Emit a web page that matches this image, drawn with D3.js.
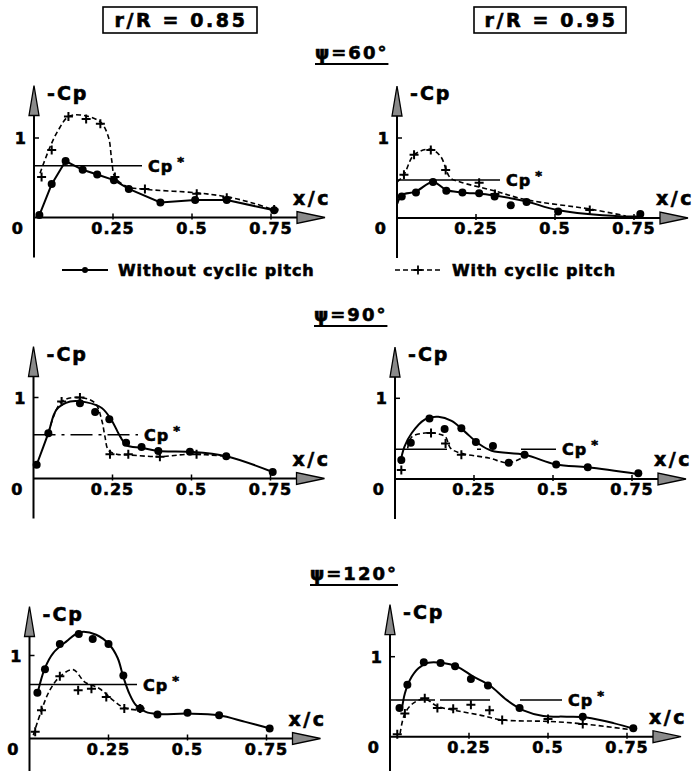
<!DOCTYPE html>
<html>
<head>
<meta charset="utf-8">
<script src="https://cdn.jsdelivr.net/npm/d3@7/dist/d3.min.js"></script>
<style>
  body { margin: 0; background: #fff; }
  svg { display: block; font-family: "DejaVu Sans", sans-serif; font-weight: bold; }
  svg text { stroke: #000; stroke-width: 0.6px; }
  .curve { fill: none; stroke: #000; }
  .solid { stroke-width: 2; }
  .dashed { stroke-width: 1.6; stroke-dasharray: 5,3; }
</style>
</head>
<body>
<svg id="chart" width="698" height="771"></svg>
<script>
// ---- data: [x/c, -Cp] ----
// r/R = 0.85, psi = 60
var r85p60WithoutPts = [[0.017,0.03],[0.056,0.42],[0.10,0.71],[0.154,0.60],[0.20,0.54],[0.253,0.47],[0.30,0.36],[0.40,0.19],[0.51,0.22],[0.61,0.22],[0.76,0.09]];
var r85p60WithoutLine = r85p60WithoutPts;
var r85p60WithPts = [[0.024,0.51],[0.056,0.85],[0.109,1.27],[0.165,1.24],[0.21,1.18],[0.256,0.51],[0.351,0.36],[0.515,0.30],[0.61,0.25],[0.76,0.10]];
var r85p60WithLine = [[0.019,0.556],[0.051,0.89],[0.077,1.10],[0.109,1.27],[0.146,1.29],[0.209,1.205],[0.235,1.02],[0.246,0.72],[0.256,0.51],[0.293,0.39],[0.351,0.355],[0.515,0.31],[0.61,0.26],[0.694,0.18],[0.778,0.07]];
// r/R = 0.95, psi = 60
var r95p60WithoutPts = [[0.015,0.27],[0.06,0.32],[0.114,0.45],[0.156,0.34],[0.207,0.32],[0.26,0.31],[0.309,0.27],[0.36,0.16],[0.41,0.20],[0.51,0.08],[0.77,0.05]];
var r95p60WithoutLine = [[0.001,0.18],[0.017,0.29],[0.059,0.33],[0.114,0.45],[0.156,0.35],[0.207,0.32],[0.29,0.29],[0.407,0.21],[0.507,0.10],[0.713,0.02],[0.77,0.02]];
var r95p60WithPts = [[0.022,0.54],[0.054,0.79],[0.107,0.85],[0.154,0.60],[0.26,0.44],[0.31,0.30],[0.61,0.10]];
var r95p60WithLine = [[0.001,0.45],[0.022,0.54],[0.054,0.79],[0.107,0.86],[0.138,0.77],[0.169,0.50],[0.20,0.45],[0.307,0.34],[0.407,0.23],[0.613,0.11],[0.724,0.025]];
// r/R = 0.85, psi = 90
var r85p90WithoutPts = [[0.01,0.17],[0.047,0.56],[0.147,0.93],[0.195,0.82],[0.24,0.73],[0.293,0.44],[0.342,0.39],[0.395,0.34],[0.495,0.33],[0.61,0.275],[0.757,0.08]];
var r85p90WithoutLine = [[0.01,0.17],[0.047,0.56],[0.073,0.85],[0.116,0.95],[0.168,0.94],[0.216,0.87],[0.247,0.72],[0.274,0.52],[0.295,0.41],[0.342,0.38],[0.395,0.34],[0.495,0.33],[0.61,0.275],[0.757,0.08]];
var r85p90WithPts = [[0.089,0.95],[0.147,1.0],[0.242,0.30],[0.30,0.30],[0.40,0.27],[0.516,0.30]];
var r85p90WithLine = [[0.047,0.56],[0.089,0.95],[0.147,1.0],[0.195,0.93],[0.216,0.72],[0.226,0.52],[0.237,0.35],[0.263,0.30],[0.305,0.29],[0.40,0.27],[0.495,0.30],[0.61,0.275]];
// r/R = 0.95, psi = 90
var r95p90WithoutPts = [[0.02,0.235],[0.05,0.45],[0.109,0.75],[0.157,0.62],[0.21,0.63],[0.256,0.46],[0.31,0.41],[0.36,0.20],[0.41,0.30],[0.51,0.18],[0.61,0.145],[0.77,0.07]];
var r95p90WithoutLine = [[0.016,0.19],[0.03,0.40],[0.053,0.57],[0.095,0.74],[0.137,0.77],[0.179,0.72],[0.22,0.59],[0.264,0.44],[0.306,0.35],[0.411,0.30],[0.51,0.18],[0.61,0.145],[0.77,0.06]];
var r95p90WithPts = [[0.02,0.11],[0.114,0.57],[0.16,0.44],[0.21,0.30]];
var r95p90WithLine = [[0.04,0.38],[0.053,0.52],[0.095,0.57],[0.137,0.56],[0.16,0.52],[0.176,0.38],[0.208,0.32],[0.297,0.26],[0.36,0.20],[0.41,0.28]];
// r/R = 0.85, psi = 120
var r85p120WithoutPts = [[0.025,0.55],[0.049,0.835],[0.096,1.14],[0.156,1.26],[0.20,1.20],[0.25,1.14],[0.297,0.76],[0.35,0.36],[0.405,0.29],[0.50,0.31],[0.60,0.28],[0.76,0.12]];
var r85p120WithoutLine = [[0.025,0.54],[0.049,0.85],[0.075,1.03],[0.117,1.17],[0.159,1.28],[0.211,1.25],[0.253,1.13],[0.279,0.97],[0.297,0.74],[0.316,0.54],[0.337,0.40],[0.368,0.32],[0.405,0.295],[0.502,0.30],[0.599,0.28],[0.683,0.20],[0.762,0.12]];
var r85p120WithPts = [[0.018,0.08],[0.038,0.34],[0.096,0.75],[0.154,0.58],[0.196,0.60],[0.243,0.50],[0.30,0.36],[0.35,0.36]];
var r85p120WithLine = [[0.012,0.04],[0.038,0.34],[0.064,0.58],[0.096,0.745],[0.138,0.83],[0.175,0.68],[0.222,0.60],[0.265,0.46],[0.30,0.37],[0.347,0.34]];
// r/R = 0.95, psi = 120
var r95p120WithoutPts = [[0.03,0.36],[0.055,0.65],[0.107,0.93],[0.16,0.92],[0.206,0.88],[0.256,0.72],[0.31,0.64],[0.41,0.36],[0.61,0.25],[0.77,0.105]];
var r95p120WithoutLine = [[0.037,0.33],[0.047,0.54],[0.063,0.71],[0.09,0.855],[0.121,0.925],[0.164,0.925],[0.211,0.88],[0.264,0.75],[0.316,0.64],[0.369,0.46],[0.422,0.33],[0.485,0.26],[0.559,0.25],[0.622,0.24],[0.707,0.17],[0.778,0.09]];
var r95p120WithPts = [[0.023,0.03],[0.047,0.29],[0.11,0.48],[0.15,0.36],[0.20,0.35],[0.256,0.40],[0.315,0.33],[0.355,0.21],[0.50,0.22],[0.61,0.16]];
var r95p120WithLine = [[0.032,0.04],[0.047,0.29],[0.074,0.42],[0.11,0.47],[0.15,0.38],[0.211,0.325],[0.285,0.27],[0.355,0.21],[0.508,0.19],[0.61,0.16],[0.778,0.08]];

// critical pressure coefficient per panel
var cpStar = { r85p60: 0.65, r95p60: 0.475, r85p90: 0.54, r95p90: 0.37, r85p120: 0.65, r95p120: 0.46 };
var xTicks = [0.25, 0.5, 0.75];
var xTickLabels = ["0.25", "0.5", "0.75"];
var columnTitles = ["r/R = 0.85", "r/R = 0.95"];
var rowTitles = ["\u03c8=60\u00b0", "\u03c8=90\u00b0", "\u03c8=120\u00b0"];
var legendLabels = ["Without cyclic pitch", "With cyclic pitch"];

// ---- layout ----
var panels = [
  { key: "r85p60", x0: 34, y0: 217.5, yu: 79.5, cpEnd: 142, cpDash: null, curveWithout: "linear",
    withoutPts: r85p60WithoutPts, withoutLine: r85p60WithoutLine, withPts: r85p60WithPts, withLine: r85p60WithLine },
  { key: "r95p60", x0: 397, y0: 218, yu: 80, cpEnd: 500, cpDash: null,
    withoutPts: r95p60WithoutPts, withoutLine: r95p60WithoutLine, withPts: r95p60WithPts, withLine: r95p60WithLine },
  { key: "r85p90", x0: 33.5, y0: 478.5, yu: 81, cpEnd: 138, cpDash: "22,6,3,6",
    withoutPts: r85p90WithoutPts, withoutLine: r85p90WithoutLine, withPts: r85p90WithPts, withLine: r85p90WithLine },
  { key: "r95p90", x0: 395, y0: 479, yu: 80.7, cpEnd: 556, cpDash: "52,30,4,40,200",
    withoutPts: r95p90WithoutPts, withoutLine: r95p90WithoutLine, withPts: r95p90WithPts, withLine: r95p90WithLine },
  { key: "r85p120", x0: 29.5, y0: 738.5, yu: 83, cpEnd: 137, cpDash: null,
    withoutPts: r85p120WithoutPts, withoutLine: r85p120WithoutLine, withPts: r85p120WithPts, withLine: r85p120WithLine },
  { key: "r95p120", x0: 390, y0: 736.7, yu: 80, cpEnd: 562, cpDash: "45,5,50,30,200",
    withoutPts: r95p120WithoutPts, withoutLine: r95p120WithoutLine, withPts: r95p120WithPts, withLine: r95p120WithLine }
];
var XU = 316;

var svg = d3.select("#chart");
var plusPath = "M-4.5,0H4.5M0,-4.5V4.5";

// column header boxes
var headers = [{ x: 103, w: 154 }, { x: 474, w: 152 }];
headers.forEach(function(h, i) {
  svg.append("rect").attr("x", h.x).attr("y", 7).attr("width", h.w).attr("height", 26)
    .attr("fill", "none").attr("stroke", "#000").attr("stroke-width", 1.6);
  svg.append("text").attr("x", h.x + h.w / 2 + 1).attr("y", 27).attr("text-anchor", "middle")
    .style("font-size", "19px").style("letter-spacing", "2.6px").text(columnTitles[i]);
});

// row titles, underlined
var titlePos = [{ x: 315, y: 59 }, { x: 314, y: 321 }, { x: 310, y: 580 }];
titlePos.forEach(function(t, i) {
  var txt = svg.append("text").attr("x", t.x).attr("y", t.y)
    .style("font-size", "18px").style("letter-spacing", "2px").text(rowTitles[i]);
  var w = txt.node().getComputedTextLength();
  svg.append("line").attr("x1", t.x).attr("x2", t.x + w).attr("y1", t.y + 5).attr("y2", t.y + 5)
    .attr("stroke", "#000").attr("stroke-width", 1.8);
});

// legend
var lg = svg.append("g");
lg.append("line").attr("x1", 62).attr("x2", 108).attr("y1", 270).attr("y2", 270)
  .attr("stroke", "#000").attr("stroke-width", 2);
lg.append("circle").attr("cx", 85).attr("cy", 270).attr("r", 3).attr("fill", "#000");
lg.append("text").attr("x", 118).attr("y", 276).style("font-size", "16px").style("letter-spacing", "0.9px").text(legendLabels[0]);
lg.append("line").attr("x1", 395).attr("x2", 442).attr("y1", 270).attr("y2", 270)
  .attr("stroke", "#000").attr("stroke-width", 1.6).attr("stroke-dasharray", "5,3");
lg.append("path").attr("d", plusPath).attr("transform", "translate(418,270)")
  .attr("stroke", "#000").attr("stroke-width", 1.8);
lg.append("text").attr("x", 452).attr("y", 276).style("font-size", "16px").style("letter-spacing", "0.9px").text(legendLabels[1]);

panels.forEach(function(p) {
  var x = d3.scaleLinear().domain([0, 1]).range([p.x0, p.x0 + XU]);
  var y = d3.scaleLinear().domain([0, 1]).range([p.y0, p.y0 - p.yu]);
  var g = svg.append("g");

  // axes
  var yTip = p.y0 - 132, xTip = p.x0 + 291;
  g.append("line").attr("x1", p.x0).attr("x2", p.x0).attr("y1", p.y0 + 40).attr("y2", yTip + 10)
    .attr("stroke", "#000").attr("stroke-width", 2);
  g.append("line").attr("x1", p.x0).attr("x2", xTip - 10).attr("y1", p.y0).attr("y2", p.y0)
    .attr("stroke", "#000").attr("stroke-width", 2);
  g.append("path")
    .attr("d", "M" + p.x0 + "," + yTip + "L" + (p.x0 + 5) + "," + (yTip + 30) + "L" + (p.x0 - 5) + "," + (yTip + 30) + "Z")
    .attr("fill", "#8a8a8a").attr("stroke", "#000").attr("stroke-width", 1.3);
  g.append("path")
    .attr("d", "M" + xTip + "," + p.y0 + "L" + (xTip - 28) + "," + (p.y0 - 6) + "L" + (xTip - 28) + "," + (p.y0 + 6) + "Z")
    .attr("fill", "#8a8a8a").attr("stroke", "#000").attr("stroke-width", 1.3);

  // ticks
  xTicks.forEach(function(t, i) {
    g.append("line").attr("x1", x(t)).attr("x2", x(t)).attr("y1", p.y0 - 4).attr("y2", p.y0 + 2)
      .attr("stroke", "#000").attr("stroke-width", 1.5);
    g.append("text").attr("x", x(t)).attr("y", p.y0 + 16).attr("text-anchor", "middle")
      .style("font-size", "16px").style("letter-spacing", "1px").text(xTickLabels[i]);
  });
  g.append("line").attr("x1", p.x0).attr("x2", p.x0 + 5).attr("y1", y(1)).attr("y2", y(1))
    .attr("stroke", "#000").attr("stroke-width", 1.5);
  g.append("text").attr("x", p.x0 - 8).attr("y", y(1) + 6).attr("text-anchor", "end")
    .style("font-size", "16px").text("1");
  g.append("text").attr("x", p.x0 - 11).attr("y", p.y0 + 16).attr("text-anchor", "end")
    .style("font-size", "16px").text("0");

  // axis titles
  g.append("text").attr("x", p.x0 + 13).attr("y", p.y0 - 118)
    .style("font-size", "19px").style("letter-spacing", "2px").text("-Cp");
  g.append("text").attr("x", p.x0 + 259).attr("y", p.y0 - 13)
    .style("font-size", "19px").style("letter-spacing", "2.5px").text("x/c");

  // Cp* line
  var cpLine = g.append("line").attr("x1", p.x0).attr("x2", p.cpEnd)
    .attr("y1", y(cpStar[p.key])).attr("y2", y(cpStar[p.key]))
    .attr("stroke", "#000").attr("stroke-width", 1.5);
  if (p.cpDash) cpLine.attr("stroke-dasharray", p.cpDash);
  var cpt = g.append("text").attr("x", p.cpEnd + 6).attr("y", y(cpStar[p.key]) + 6)
    .style("font-size", "16px").style("letter-spacing", "1px").text("Cp");
  cpt.append("tspan").attr("dx", 4).attr("dy", -6).style("font-size", "13px").text("*");

  // curves
  var lineWithout = d3.line().x(function(d) { return x(d[0]); }).y(function(d) { return y(d[1]); })
    .curve(p.curveWithout === "linear" ? d3.curveLinear : d3.curveCatmullRom.alpha(0.5));
  var lineWith = d3.line().x(function(d) { return x(d[0]); }).y(function(d) { return y(d[1]); })
    .curve(d3.curveCatmullRom.alpha(0.5));

  g.append("path").attr("class", "curve dashed").attr("d", lineWith(p.withLine));
  g.append("path").attr("class", "curve solid").attr("d", lineWithout(p.withoutLine));

  g.selectAll(".pt").data(p.withoutPts).enter().append("circle")
    .attr("cx", function(d) { return x(d[0]); })
    .attr("cy", function(d) { return y(d[1]); })
    .attr("r", 4).attr("fill", "#000");
  g.selectAll(".plus").data(p.withPts).enter().append("path")
    .attr("d", plusPath)
    .attr("transform", function(d) { return "translate(" + x(d[0]) + "," + y(d[1]) + ")"; })
    .attr("stroke", "#000").attr("stroke-width", 2);
});
</script>
</body>
</html>
